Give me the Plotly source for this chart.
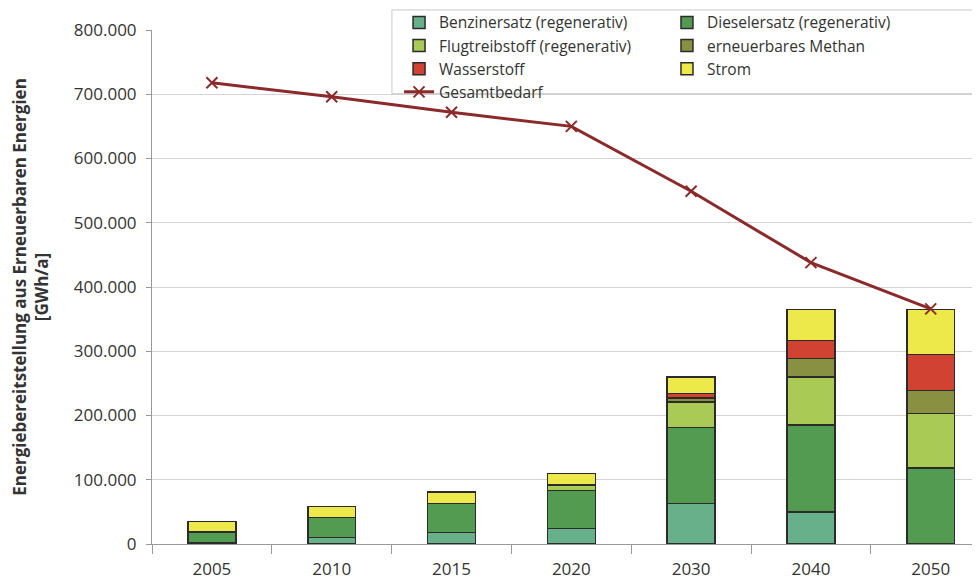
import plotly.graph_objects as go

jahre = ["2005", "2010", "2015", "2020", "2030", "2040", "2050"]

benzin = [2000, 10000, 18000, 24000, 63000, 50000, 0]
diesel = [17000, 31000, 45000, 59000, 118000, 135000, 118000]
flug = [0, 0, 0, 8000, 40000, 75000, 85000]
methan = [0, 0, 0, 1000, 6000, 29000, 36000]
wasserstoff = [0, 0, 0, 0, 7000, 28000, 56000]
strom = [16000, 17000, 18000, 18000, 26000, 48000, 70000]
gesamtbedarf = [718000, 696000, 672000, 650000, 549000, 438000, 366000]

# name, werte, farbe, legendenspalte
serien = [
    ("Benzinersatz (regenerativ)", benzin, "#67b08a", "legend"),
    ("Dieselersatz (regenerativ)", diesel, "#539b50", "legend2"),
    ("Flugtreibstoff (regenerativ)", flug, "#a9cb55", "legend"),
    ("erneuerbares Methan", methan, "#8a9041", "legend2"),
    ("Wasserstoff", wasserstoff, "#d24232", "legend"),
    ("Strom", strom, "#ede94b", "legend2"),
]

TXT = "#333333"
FONT = "Open Sans"

fig = go.Figure()
for name, werte, farbe, leg in serien:
    fig.add_trace(go.Bar(
        x=jahre, y=werte, name=name, legend=leg,
        marker=dict(color=farbe, line=dict(color="#2b2b2b", width=1.5)),
        width=0.4,
    ))

fig.add_trace(go.Scatter(
    x=jahre, y=gesamtbedarf, name="Gesamtbedarf", mode="lines+markers",
    legend="legend",
    line=dict(color="#8b2a2a", width=3),
    marker=dict(symbol="x-thin", size=11, line=dict(color="#8b2a2a", width=2)),
))

legende = dict(
    orientation="v", traceorder="normal", yanchor="top", y=1.047,
    xanchor="left", bgcolor="rgba(0,0,0,0)", borderwidth=0,
    font=dict(family=FONT, size=15.5, color=TXT),
    tracegroupgap=0, itemwidth=30,
)

# die Seite hat 8px Rand, daher Raender etwas kleiner
fig.update_layout(
    barmode="stack",
    width=980, height=582,
    margin=dict(l=144, r=0, t=22, b=46, autoexpand=False),
    paper_bgcolor="white", plot_bgcolor="white",
    font=dict(family=FONT, size=16, color=TXT),
    separators=",.",
    showlegend=True,
    legend=dict(legende, x=0.2955),
    legend2=dict(legende, x=0.616),
    shapes=[dict(
        type="rect", xref="paper", yref="paper",
        x0=0.287, x1=1.02, y0=0.876, y1=1.039,
        line=dict(color="#c8c8c8", width=1), fillcolor="white", layer="above",
    )],
    xaxis=dict(
        range=[-0.5, 6.478],
        showline=True, linecolor="#999999", linewidth=1,
        ticks="outside", tickson="boundaries", ticklen=9, tickcolor="#999999",
        showgrid=False, ticklabelstandoff=10,
        tickfont=dict(family=FONT, size=17, color=TXT),
    ),
    yaxis=dict(
        range=[0, 800000], dtick=100000, tickformat=",d",
        showline=True, linecolor="#999999", linewidth=1,
        ticks="outside", ticklen=5, tickcolor="#999999",
        showgrid=True, gridcolor="#d4d4d4", gridwidth=1,
        zeroline=False, ticklabelstandoff=6,
        tickfont=dict(family=FONT, size=17, color=TXT),
        title=dict(
            text="<b>Energiebereitstellung aus Erneuerbaren Energien<br>[GWh/a]</b>",
            font=dict(family=FONT, size=17, color=TXT), standoff=26,
        ),
    ),
)

fig.write_html("out.html")
